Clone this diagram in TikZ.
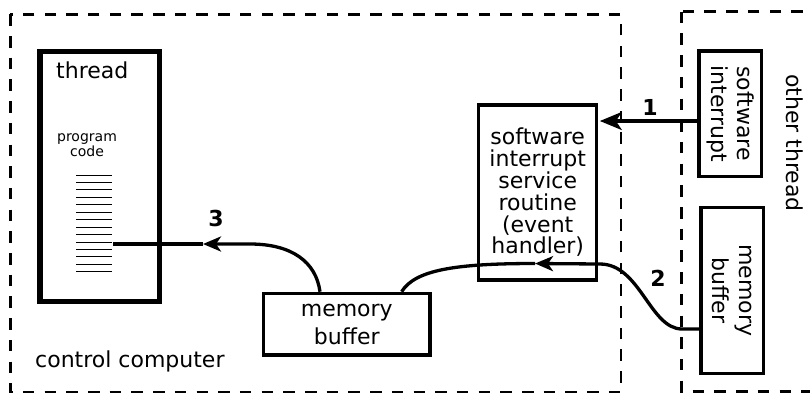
\documentclass[tikz,border=0pt]{standalone}
\usepackage{fontspec}
\setmainfont{DejaVu Sans}
\usetikzlibrary{arrows.meta,calc}

\tikzset{
  box/.style={draw, line width=3.3pt, inner sep=0pt, align=center,
              font=\fontsize{22}{22}\selectfont},
  region/.style={draw, line width=2.6pt, dash pattern=on 11.5pt off 10.2pt},
  txt/.style={inner sep=0pt, font=\fontsize{22}{22}\selectfont},
  num/.style={inner sep=0pt, font=\fontsize{22}{22}\selectfont\bfseries},
  link/.style={line width=3.3pt},
  tipsmall/.style={-{Stealth[length=18pt,width=15pt,inset=5pt]}},
  tipbig/.style={-{Stealth[length=22pt,width=18pt,inset=6pt]}},
  codeline/.style={line width=1pt},
}

\begin{document}
\begin{tikzpicture}[x=1pt,y=-1pt]
  \useasboundingbox (0,0) rectangle (810,392);

  % dashed regions
  \draw[region] (10.3,14.3) rectangle (620.8,392.3);
  \draw[region] (681.7,11.7) rectangle (840,391.3);
  \node[txt, anchor=base west] (cclbl) at (35,367) {control computer};
  \node[txt, rotate=-90] (otlbl) at (795,143) {other thread};

  % thread with its program code
  \node[draw, line width=5.3pt, minimum width=119.5pt, minimum height=250pt, inner sep=0pt]
    (thread) at (99.75,176.7) {};
  \node[txt, anchor=base west] (threadlbl) at (56,78) {thread};
  \node[inner sep=0pt, align=center, font=\fontsize{14}{10.5}\selectfont]
    (prog) at (87,145) {program\\code};
  \foreach \i in {0,...,13}
    \draw[codeline] (76,{175+7.45*\i}) -- (112,{175+7.45*\i});
  \coordinate (codept) at (113,244);

  % boxes
  \node[box, minimum width=118pt, minimum height=175pt,
        font=\fontsize{22}{21.8}\selectfont] (isr) at (537.7,192.5)
        {software\\interrupt\\service\\routine\\(event\\handler)};
  \node[box, minimum width=166.3pt, minimum height=61.7pt,
        font=\fontsize{22}{28}\selectfont] (mbuf) at (346.8,324.2) {memory\\buffer};
  \node[box, minimum width=62.3pt, minimum height=125.3pt] (swi) at (730.2,113.7) {};
  \node[txt, rotate=-90, align=center, font=\fontsize{22}{26}\selectfont]
    (switxt) at (swi.center) {software\\interrupt};
  \node[box, minimum width=62.3pt, minimum height=166pt] (mbr) at (732.2,290.3) {};
  \node[txt, rotate=-90, align=center, font=\fontsize{22}{27}\selectfont]
    (mbrtxt) at (mbr.center) {memory\\buffer};

  % 1: software interrupt triggers the service routine
  \draw[link, tipbig] (swi.west |- 0,121) -- ($(isr.east |- 0,121)+(1.5,0)$);
  \node[num] (n1) at (650,107) {1};

  % 2: data copied from the other thread's buffer
  \coordinate (tip2) at (535,263.5);
  \draw[link, tipsmall] (mbr.west |- 0,329) -- (682,329)
    .. controls (650,329) and (640,264) .. (600,264) -- (tip2);
  \draw[link] (tip2) .. controls (455,263.5) and (415,270) .. ($(mbuf.north east)+(-30,0)$);
  \node[num] (n2) at (658,278) {2};

  % 3: the thread reads the buffer
  \coordinate (tip3) at (203,244);
  \draw[link, tipsmall] ($(mbuf.north west)+(58,0)$)
    .. controls (316,262) and (292,244) .. (250,244) -- (tip3);
  \draw[link] (tip3) -- (codept);
  \node[num] (n3) at (216,218) {3};
\end{tikzpicture}
\end{document}
